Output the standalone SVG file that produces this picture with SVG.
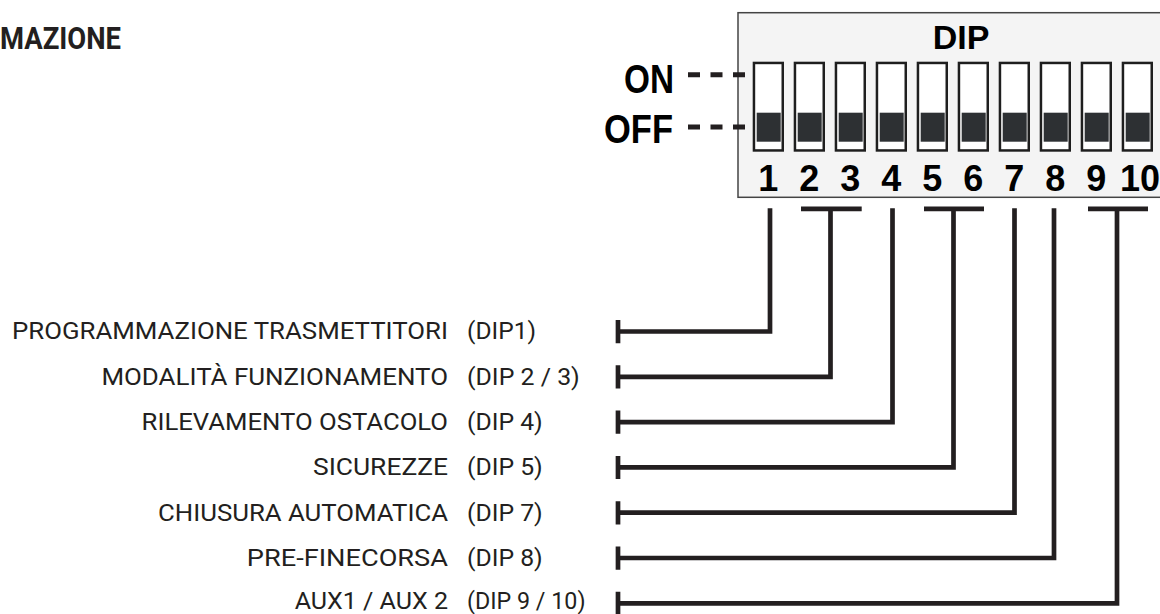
<svg xmlns="http://www.w3.org/2000/svg" width="1160" height="614" viewBox="0 0 1160 614">
<defs>
<style>
.lbl{font-family:Roboto,"Liberation Sans",Arial,sans-serif;font-size:24px;fill:#231f20}
.name{text-anchor:end}
.bold{font-family:"Liberation Sans",Arial,sans-serif;font-weight:bold;fill:#000}
.sw{fill:#fff;stroke:#1e1e1e;stroke-width:2.5}
.knob{fill:#2d3033}
.num{font-family:"Liberation Sans",Arial,sans-serif;font-weight:bold;font-size:36px;fill:#000;text-anchor:middle}
.wire{fill:none;stroke:#231f20;stroke-width:4.7;stroke-linejoin:miter;stroke-linecap:butt}
.dash{stroke:#231f20;stroke-width:5;stroke-dasharray:12 10.5}
</style>
<g id="switch">
<rect class="sw" x="1.25" y="1.25" width="28.8" height="87.5"/>
<rect class="knob" x="4" y="51" width="24" height="29"/>
</g>
</defs>
<rect width="1160" height="614" fill="#fff"/>
<g id="title">
<text x="0" y="49" font-family="Roboto,'Liberation Sans',sans-serif" font-weight="bold" font-size="31" fill="#231f20" textLength="121" lengthAdjust="spacingAndGlyphs">MAZIONE</text>
</g>
<g id="dip-block">
<rect x="738" y="12.7" width="440" height="184.6" fill="#f4f4f4" stroke="#444" stroke-width="1.5"/>
<text class="bold" x="961" y="49.3" font-size="34" text-anchor="middle">DIP</text>
<use href="#switch" x="752.7" y="61.7"/>
<use href="#switch" x="793.7" y="61.7"/>
<use href="#switch" x="834.7" y="61.7"/>
<use href="#switch" x="875.7" y="61.7"/>
<use href="#switch" x="916.7" y="61.7"/>
<use href="#switch" x="957.7" y="61.7"/>
<use href="#switch" x="998.7" y="61.7"/>
<use href="#switch" x="1039.7" y="61.7"/>
<use href="#switch" x="1080.7" y="61.7"/>
<use href="#switch" x="1121.7" y="61.7"/>
<text class="num" x="768.3" y="190.7">1</text>
<text class="num" x="809.3" y="190.7">2</text>
<text class="num" x="850.3" y="190.7">3</text>
<text class="num" x="891.3" y="190.7">4</text>
<text class="num" x="932.3" y="190.7">5</text>
<text class="num" x="973.3" y="190.7">6</text>
<text class="num" x="1014.3" y="190.7">7</text>
<text class="num" x="1055.3" y="190.7">8</text>
<text class="num" x="1096.3" y="190.7">9</text>
<text class="num" x="1140" y="190.7">10</text>
</g>
<g id="on-off">
<text class="bold" x="674" y="92.7" font-size="40" text-anchor="end" fill="#231f20" textLength="50" lengthAdjust="spacingAndGlyphs">ON</text>
<text class="bold" x="673" y="142.7" font-size="40" text-anchor="end" fill="#231f20" textLength="69" lengthAdjust="spacingAndGlyphs">OFF</text>
<line class="dash" x1="688" y1="74.7" x2="746" y2="74.7"/>
<line class="dash" x1="688" y1="127" x2="746" y2="127"/>
</g>
<g id="connectors">
<path class="wire" d="M770 208.3V331.5H618"/>
<path class="wire" d="M801 208.8H861.7M830.5 208.8V376.8H618"/>
<path class="wire" d="M892.5 208.3V422.1H618"/>
<path class="wire" d="M924 208.8H984M953.5 208.8V467.4H618"/>
<path class="wire" d="M1014.5 208.3V512.7H618"/>
<path class="wire" d="M1054 208.3V558H618"/>
<path class="wire" d="M1088 208.8H1148M1117 208.8V603.3H618"/>
<path class="wire" d="M618 320V343.2M618 365.3V388.5M618 410.6V433.8M618 455.9V479.1M618 501.2V524.4M618 546.5V569.7M618 591.8V615"/>
</g>
<g id="label-dip1">
<text class="lbl name" x="448" y="339.3" textLength="436" lengthAdjust="spacingAndGlyphs">PROGRAMMAZIONE TRASMETTITORI</text>
<text class="lbl" x="467" y="339.3" textLength="69" lengthAdjust="spacingAndGlyphs">(DIP1)</text>
</g>
<g id="label-dip23">
<text class="lbl name" x="448" y="384.6" textLength="346.6" lengthAdjust="spacingAndGlyphs">MODALITÀ FUNZIONAMENTO</text>
<text class="lbl" x="467" y="384.6" textLength="112.8" lengthAdjust="spacingAndGlyphs">(DIP 2 / 3)</text>
</g>
<g id="label-dip4">
<text class="lbl name" x="448" y="429.9" textLength="306.4" lengthAdjust="spacingAndGlyphs">RILEVAMENTO OSTACOLO</text>
<text class="lbl" x="467" y="429.9" textLength="75.7" lengthAdjust="spacingAndGlyphs">(DIP 4)</text>
</g>
<g id="label-dip5">
<text class="lbl name" x="448" y="475.2" textLength="135" lengthAdjust="spacingAndGlyphs">SICUREZZE</text>
<text class="lbl" x="467" y="475.2" textLength="75.7" lengthAdjust="spacingAndGlyphs">(DIP 5)</text>
</g>
<g id="label-dip7">
<text class="lbl name" x="448" y="520.5" textLength="290" lengthAdjust="spacingAndGlyphs">CHIUSURA AUTOMATICA</text>
<text class="lbl" x="467" y="520.5" textLength="75.7" lengthAdjust="spacingAndGlyphs">(DIP 7)</text>
</g>
<g id="label-dip8">
<text class="lbl name" x="448" y="565.8" textLength="201.2" lengthAdjust="spacingAndGlyphs">PRE-FINECORSA</text>
<text class="lbl" x="467" y="565.8" textLength="75.7" lengthAdjust="spacingAndGlyphs">(DIP 8)</text>
</g>
<g id="label-dip910">
<text class="lbl name" x="448" y="609" textLength="153.3" lengthAdjust="spacingAndGlyphs">AUX1 / AUX 2</text>
<text class="lbl" x="467" y="609" textLength="118.5" lengthAdjust="spacingAndGlyphs">(DIP 9 / 10)</text>
</g>
</svg>
